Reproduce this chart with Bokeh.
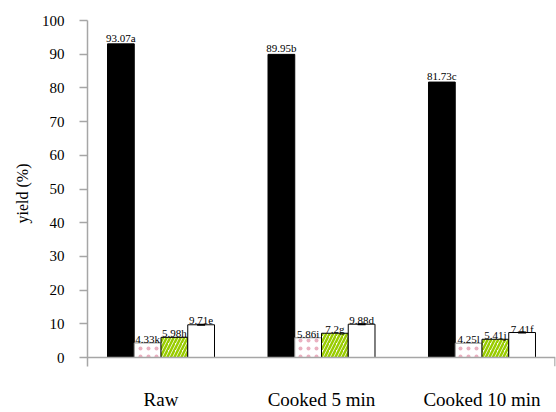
from bokeh.plotting import figure
from bokeh.models import FixedTicker, Span, ColumnDataSource
from bokeh.embed import file_html
from bokeh.resources import INLINE
from bokeh.core.properties import value

categories = ["Raw", "Cooked 5 min", "Cooked 10 min"]
series_black = [93.07, 89.95, 81.73]
series_pink = [4.33, 5.86, 4.25]
series_green = [5.98, 7.2, 5.41]
series_white = [9.71, 9.88, 7.41]
labels_black = ["93.07a", "89.95b", "81.73c"]
labels_pink = ["4.33k", "5.86i", "4.25l"]
labels_green = ["5.98h", "7.2g", "5.41j"]
labels_white = ["9.71e", "9.88d", "7.41f"]
y_ticks = [0, 10, 20, 30, 40, 50, 60, 70, 80, 90, 100]

SERIF = "Liberation Serif"
AXIS_GRAY = "#a6a6a6"
bw = 1 / 6
x0, x1 = 0.542, 3.458
px_per_unit = 3.37
tick_units = 9 / px_per_unit

p = figure(width=556, height=412, output_backend="svg", toolbar_location=None,
           x_range=(x0, x1), y_range=(-tick_units, 100),
           min_border_left=87, min_border_right=1, min_border_top=20, min_border_bottom=46)
p.outline_line_color = None
p.xgrid.grid_line_color = None
p.ygrid.grid_line_color = None
p.background_fill_color = "white"

centers = [1, 2, 3]
series = [
    (series_black, labels_black, -6, dict(fill_color="black", line_color="black")),
    (series_pink, labels_pink, -4, dict(fill_color="white", line_color="#8c8c8c", line_width=1,
                                        hatch_pattern="dot", hatch_color="#eab0c0", hatch_scale=8,
                                        hatch_weight=0.7)),
    (series_green, labels_green, -4, dict(fill_color="white", line_color="black", line_width=1,
                                          hatch_pattern="right_diagonal_line", hatch_color="#99cc00",
                                          hatch_scale=7, hatch_weight=2.5)),
    (series_white, labels_white, -4, dict(fill_color="white", line_color="black", line_width=1)),
]
for k, (vals, labs, off, style) in enumerate(series):
    xs = [c + (k - 1.5) * bw for c in centers]
    src = ColumnDataSource(dict(x=xs, top=vals, lab=labs))
    p.vbar(x="x", top="top", bottom=0, width=bw, source=src, **style)
    p.text(x="x", y="top", text="lab", source=src, text_align="center", text_baseline="alphabetic",
           y_offset=off, text_font=value(SERIF), text_font_size="11px", text_color="black")
    if k == 3:
        p.scatter(x="x", y="top", source=src, marker="dash", size=8, line_color="black", line_width=2)

# x axis line at zero and the right end tick
p.add_layout(Span(location=0, dimension="width", line_color=AXIS_GRAY, line_width=1.5))
p.segment(x0=[x1 - 0.003], y0=[-tick_units], x1=[x1 - 0.003], y1=[0], line_color=AXIS_GRAY, line_width=1.5)

# y axis
ya = p.yaxis[0]
ya.ticker = FixedTicker(ticks=y_ticks)
ya.axis_line_color = AXIS_GRAY
ya.axis_line_width = 1.5
ya.major_tick_line_color = AXIS_GRAY
ya.major_tick_line_width = 1.5
ya.major_tick_out = 8
ya.major_tick_in = 0
ya.minor_tick_line_color = None
ya.major_label_standoff = 15
ya.major_label_text_font = SERIF
ya.major_label_text_font_size = "15px"
ya.major_label_text_color = "black"
ya.axis_label = "yield (%)"
ya.axis_label_text_font = SERIF
ya.axis_label_text_font_size = "16px"
ya.axis_label_text_font_style = "normal"
ya.axis_label_standoff = 8
ya.axis_label_text_color = "black"

# x axis: category labels only
xa = p.xaxis[0]
xa.ticker = FixedTicker(ticks=centers)
xa.major_label_overrides = {c: n for c, n in zip(centers, categories)}
xa.axis_line_color = None
xa.major_tick_line_color = None
xa.major_tick_out = 0
xa.major_tick_in = 0
xa.minor_tick_line_color = None
xa.major_label_standoff = 22
xa.major_label_text_font = SERIF
xa.major_label_text_font_size = "19px"
xa.major_label_text_color = "black"

open("out.html", "w").write(file_html(p, INLINE))
